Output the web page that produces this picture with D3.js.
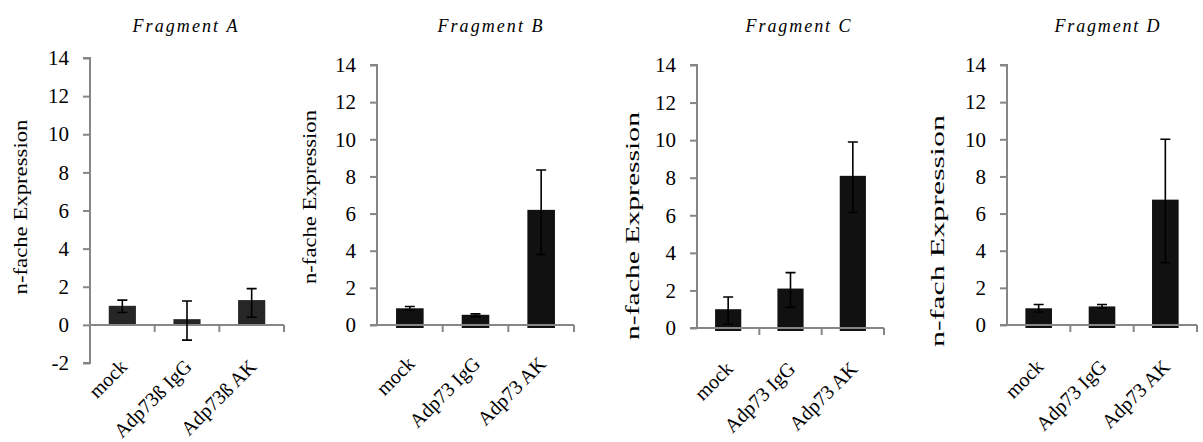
<!DOCTYPE html>
<html>
<head>
    <script src="https://d3js.org/d3.v7.min.js"></script>
    <style>
        body { margin: 0; background: #fff; }
        text { font-family: 'Liberation Serif', 'Times New Roman', serif; fill: #000; }
        .title { font-style: italic; font-size: 18px; }
        .axis path, .axis line { stroke: #868686; stroke-width: 2px; }
        .axis text { font-size: 21px; }
        .errbar { stroke: #000; stroke-width: 1.6px; fill: none; }
    </style>
</head>
<body>
<svg id="chart" width="1203" height="442"></svg>
<script>
    // data
    const titles = ['Fragment A', 'Fragment B', 'Fragment C', 'Fragment D'];
    const yLabels = ['n-fache Expression', 'n-fache Expression', 'n-fache Expression', 'n-fach Expression'];
    const categoriesA = ['mock', 'Adp73ß IgG', 'Adp73ß AK'];
    const categories = ['mock', 'Adp73 IgG', 'Adp73 AK'];
    const yTicksA = [-2, 0, 2, 4, 6, 8, 10, 12, 14];
    const yTicks = [0, 2, 4, 6, 8, 10, 12, 14];

    const valuesA = [1.0, 0.3, 1.3];
    const errLowA = [0.65, -0.8, 0.4];
    const errHighA = [1.3, 1.25, 1.9];

    const valuesB = [0.9, 0.55, 6.2];
    const errLowB = [0.8, 0.45, 3.8];
    const errHighB = [1.0, 0.6, 8.35];

    const valuesC = [1.0, 2.1, 8.1];
    const errLowC = [0.2, 1.1, 6.15];
    const errHighC = [1.65, 2.95, 9.9];

    const valuesD = [0.9, 1.0, 6.75];
    const errLowD = [0.7, 0.9, 3.35];
    const errHighD = [1.1, 1.1, 10.0];

    // panel layout (pixels)
    const panels = [
        { cats: categoriesA, vals: valuesA, lo: errLowA, hi: errHighA, ticks: yTicksA, domain: [-2, 14],
          x0: 90, x1: 284, yTop: 58, yBot: 363, titleX: 185,
          labelX: 20, labelY: 207, labelLen: 175, catDy: 43, barColor: '#262626', sink: 0 },
        { cats: categories, vals: valuesB, lo: errLowB, hi: errHighB, ticks: yTicks, domain: [0, 14],
          x0: 377, x1: 574, yTop: 65, yBot: 325, titleX: 490,
          labelX: 309, labelY: 197, labelLen: 174, catDy: 40, barColor: '#111', sink: 3 },
        { cats: categories, vals: valuesC, lo: errLowC, hi: errHighC, ticks: yTicks, domain: [0, 14],
          x0: 697, x1: 884, yTop: 65, yBot: 328, titleX: 798,
          labelX: 632, labelY: 226, labelLen: 228, catDy: 42, barColor: '#111', sink: 3 },
        { cats: categories, vals: valuesD, lo: errLowD, hi: errHighD, ticks: yTicks, domain: [0, 14],
          x0: 1007, x1: 1197, yTop: 65, yBot: 325, titleX: 1107,
          labelX: 937, labelY: 231, labelLen: 232, catDy: 43, barColor: '#111', sink: 3 }
    ];

    const svg = d3.select('#chart');

    panels.forEach((p, i) => {
        const g = svg.append('g');

        const x = d3.scaleBand().domain(p.cats).range([p.x0, p.x1]).paddingInner(0.58).paddingOuter(0.29);
        const xb = d3.scaleBand().domain(p.cats).range([p.x0, p.x1]);
        const y = d3.scaleLinear().domain(p.domain).range([p.yBot, p.yTop]);

        // title
        g.append('text')
            .attr('class', 'title')
            .attr('x', p.titleX)
            .attr('y', 32)
            .attr('text-anchor', 'middle')
            .attr('textLength', 105)
            .attr('lengthAdjust', 'spacing')
            .text(titles[i]);

        // y label (stretched like in the picture)
        g.append('text')
            .attr('transform', `translate(${p.labelX}, ${p.labelY}) rotate(-90)`)
            .attr('text-anchor', 'middle')
            .attr('dominant-baseline', 'central')
            .attr('textLength', p.labelLen)
            .attr('lengthAdjust', 'spacingAndGlyphs')
            .style('font-size', '19px')
            .text(yLabels[i]);

        // bars
        g.selectAll('rect.bar')
            .data(p.vals)
            .join('rect')
            .attr('class', 'bar')
            .attr('x', (d, j) => x(p.cats[j]))
            .attr('width', x.bandwidth())
            .attr('y', d => y(d))
            .attr('height', d => y(0) + p.sink - y(d))
            .attr('fill', p.barColor);

        // y axis
        const yAxis = d3.axisLeft(y).tickValues(p.ticks).tickSize(7).tickPadding(14).tickFormat(d => String(d));
        g.append('g')
            .attr('class', 'axis')
            .attr('transform', `translate(${p.x0},0)`)
            .call(yAxis)
            .attr('font-family', null)
            .attr('font-size', null)
            .call(a => a.select('.domain').attr('d', `M-7,${p.yTop}H0V${p.yBot}H-7`));

        // x axis line at zero with ticks at band boundaries
        const xa = g.append('g').attr('class', 'axis');
        xa.append('line')
            .attr('x1', p.x0).attr('x2', p.x1)
            .attr('y1', y(0)).attr('y2', y(0));
        xa.selectAll('line.tick')
            .data(p.cats)
            .join('line')
            .attr('class', 'tick')
            .attr('x1', d => xb(d) + xb.bandwidth())
            .attr('x2', d => xb(d) + xb.bandwidth())
            .attr('y1', y(0))
            .attr('y2', y(0) + 7);

        // error bars
        const cap = 5;
        g.selectAll('path.errbar')
            .data(p.vals)
            .join('path')
            .attr('class', 'errbar')
            .attr('d', (d, j) => {
                const cx = x(p.cats[j]) + x.bandwidth() / 2;
                const yl = y(p.lo[j]), yh = y(p.hi[j]);
                return `M${cx},${yl}V${yh}M${cx - cap},${yh}H${cx + cap}M${cx - cap},${yl}H${cx + cap}`;
            });

        // category labels
        g.selectAll('text.cat')
            .data(p.cats)
            .join('text')
            .attr('class', 'cat')
            .attr('transform', d => `translate(${xb(d) + xb.bandwidth() / 2 + 6}, ${y(0) + p.catDy}) rotate(-45)`)
            .attr('text-anchor', 'end')
            .style('font-size', '20px')
            .text(d => d);
    });
</script>
</body>
</html>
